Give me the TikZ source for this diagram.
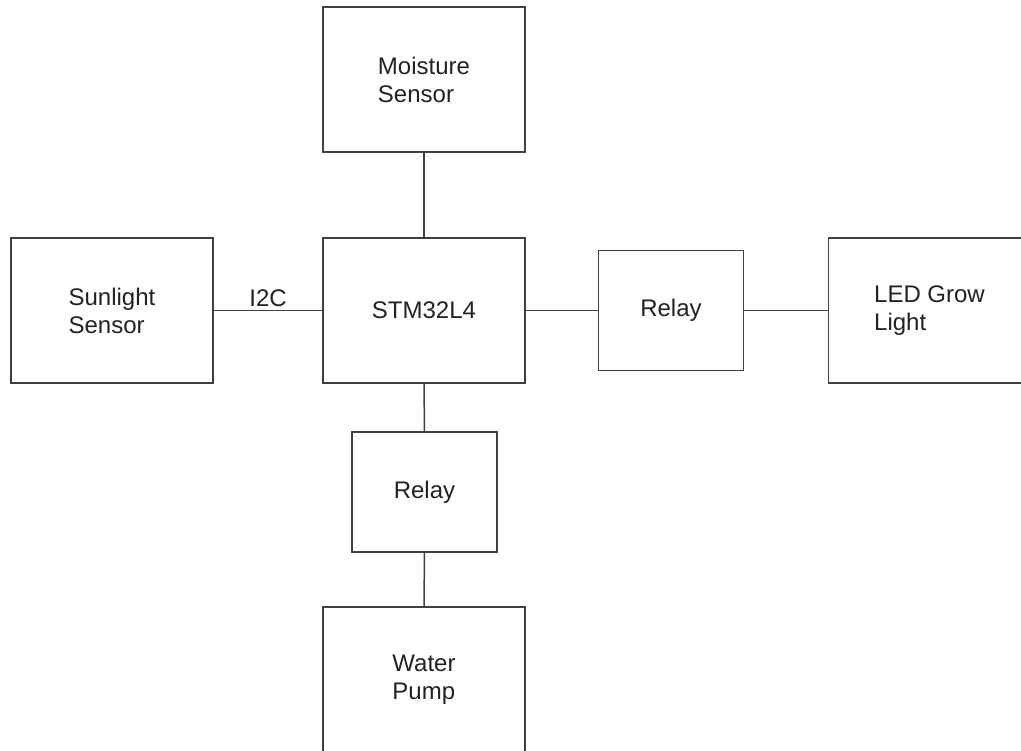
\documentclass[tikz,border=0pt]{standalone}
\usepackage{fontspec}
\setmainfont{Liberation Sans}
\definecolor{linec}{HTML}{404040}
\definecolor{textc}{HTML}{222222}
\tikzset{
  blk/.style={draw=linec, line width=1.5pt, inner sep=0pt, outer sep=0pt,
    align=left, text=textc, font=\fontsize{24}{28}\selectfont},
  bigblk/.style={blk, minimum width=202pt, minimum height=145pt},
  relayblk/.style={blk, minimum width=145pt, minimum height=120pt},
  wire/.style={draw=linec, line width=1.5pt},
  lbl/.style={text=textc, font=\fontsize{24}{28}\selectfont, inner sep=3pt}
}
\begin{document}
\begin{tikzpicture}
\useasboundingbox (0pt,0pt) rectangle (1021pt,-751pt);
\clip (0pt,0pt) rectangle (1021pt,-751pt);
\node[bigblk] (moist) at (424pt,-79.5pt) {Moisture\\Sensor};
\node[bigblk] (sun) at (112pt,-310.5pt) {Sunlight\\Sensor};
\node[bigblk] (stm) at (424pt,-310.5pt) {STM32L4};
\node[relayblk] (relayr) at (671pt,-310.5pt) {Relay};
\node[bigblk] (led) at (929.5pt,-310.5pt) {LED Grow\\Light};
\node[relayblk] (relayb) at (424.5pt,-492pt) {Relay};
\node[bigblk] (pump) at (424pt,-679.5pt) {Water\\Pump};
\draw[wire] (moist.south) -- (stm.north);
\draw[wire] (sun.east) -- node[lbl, above] (i2c) {I2C} (stm.west);
\draw[wire] (stm.east) -- (relayr.west);
\draw[wire] (relayr.east) -- (led.west);
\draw[wire] (stm.south) -- (relayb.north);
\draw[wire] (relayb.south) -- (pump.north);
\end{tikzpicture}
\end{document}
